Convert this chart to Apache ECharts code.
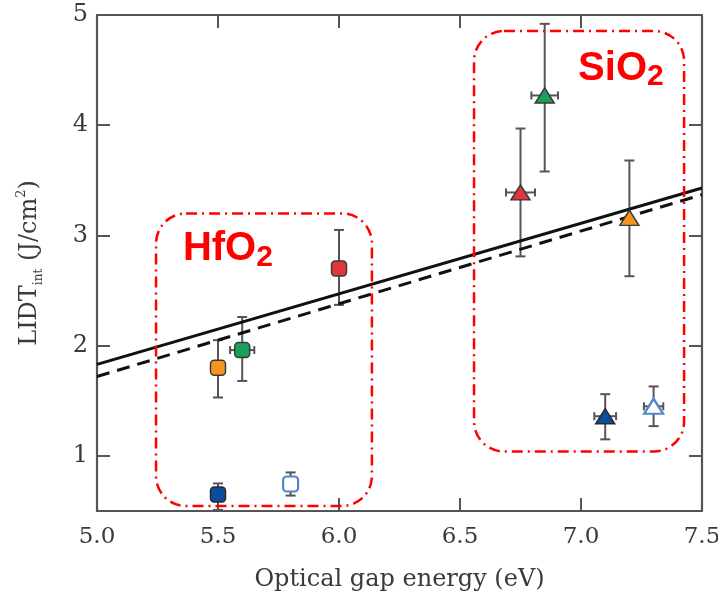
<!DOCTYPE html>
<html>
<head>
<meta charset="utf-8">
<script src="https://cdn.jsdelivr.net/npm/echarts@6/dist/echarts.min.js"></script>
<style>
  html, body { margin: 0; padding: 0; background: #fff; }
  #chart { width: 718px; height: 597px; }
</style>
</head>
<body>
<div id="chart"></div>
<script>
// Laser damage threshold of oxide films against their optical gap energy

// Measured samples: gap energy (eV), threshold (J/cm2), error limits
const gapEnergy = [5.5, 5.6, 5.5, 5.8, 6.0, 6.75, 6.85, 7.2, 7.1, 7.3];
const lidt      = [1.80, 1.96, 0.65, 0.745, 2.70, 3.39, 4.27, 3.16, 1.36, 1.45];
const lidtLow   = [1.53, 1.68, 0.51, 0.64, 2.37, 2.81, 3.58, 2.63, 1.15, 1.27];
const lidtHigh  = [2.05, 2.26, 0.75, 0.85, 3.05, 3.97, 4.92, 3.68, 1.56, 1.63];
const gapErr    = [0, 0.05, 0, 0, 0, 0.06, 0.055, 0, 0.045, 0.04];

// Linear fits drawn across the full axis range
const fitGap    = [5.0, 7.5];
const fitSolid  = [1.83, 3.43];
const fitDashed = [1.72, 3.37];

// Material groups (gap range, threshold range) and their label anchors
const groupNames   = ['HfO', 'SiO'];
const groupGap     = [[5.244, 6.136], [6.558, 7.426]];
const groupLidt    = [[0.545, 3.20], [1.04, 4.855]];
const groupLabelAt = [[5.355, 2.873], [6.988, 4.51]];

// Tick values
const xTicks = [5.0, 5.5, 6.0, 6.5, 7.0, 7.5];
const yTicks = [1, 2, 3, 4, 5];

// Marker appearance per sample
const markerStyles = [
  { shape: 'roundRect', fill: '#f7941d', stroke: '#3a3a3a' },
  { shape: 'roundRect', fill: '#17a05e', stroke: '#3a3a3a' },
  { shape: 'roundRect', fill: '#0c4c9f', stroke: '#2a2a2a' },
  { shape: 'roundRect', fill: '#ffffff', stroke: '#4f86cf' },
  { shape: 'roundRect', fill: '#e2353e', stroke: '#3a3a3a' },
  { shape: 'triangle',  fill: '#e2353e', stroke: '#3a3a3a' },
  { shape: 'triangle',  fill: '#17a05e', stroke: '#3a3a3a' },
  { shape: 'triangle',  fill: '#f7941d', stroke: '#3a3a3a' },
  { shape: 'triangle',  fill: '#0c4c9f', stroke: '#2a2a2a' },
  { shape: 'triangle',  fill: '#ffffff', stroke: '#4f86cf' }
];

const AXIS = '#555';
const TEXT = '#3a3a3a';
const SERIF = '"DejaVu Serif", serif';

const chart = echarts.init(document.getElementById('chart'), null, { renderer: 'canvas' });

const pointData = gapEnergy.map((g, i) => {
  const m = markerStyles[i];
  const tri = m.shape === 'triangle';
  return {
    value: [g, lidt[i]],
    symbol: m.shape,
    symbolSize: tri ? [19, 15] : [15, 15],
    itemStyle: {
      color: m.fill, borderColor: m.stroke, opacity: 1,
      borderWidth: m.fill === '#ffffff' ? 2.2 : 1.5
    }
  };
});

const errorData = gapEnergy.map((g, i) => [g, lidtLow[i], lidtHigh[i], gapErr[i], lidt[i]]);
const groupData = groupNames.map((n, i) => [groupGap[i][0], groupGap[i][1], groupLidt[i][0], groupLidt[i][1], groupLabelAt[i][0], groupLabelAt[i][1]]);

function renderError(params, api) {
  const x = api.value(0), lo = api.value(1), hi = api.value(2), xe = api.value(3), y = api.value(4);
  const pLo = api.coord([x, lo]);
  const pHi = api.coord([x, hi]);
  const st = { stroke: AXIS, lineWidth: 2 };
  const cap = 5;
  const kids = [
    { type: 'line', shape: { x1: pLo[0], y1: pLo[1], x2: pHi[0], y2: pHi[1] }, style: st },
    { type: 'line', shape: { x1: pLo[0] - cap, y1: pLo[1], x2: pLo[0] + cap, y2: pLo[1] }, style: st },
    { type: 'line', shape: { x1: pHi[0] - cap, y1: pHi[1], x2: pHi[0] + cap, y2: pHi[1] }, style: st }
  ];
  if (xe > 0) {
    const pL = api.coord([x - xe, y]);
    const pR = api.coord([x + xe, y]);
    kids.push(
      { type: 'line', shape: { x1: pL[0], y1: pL[1], x2: pR[0], y2: pR[1] }, style: st },
      { type: 'line', shape: { x1: pL[0], y1: pL[1] - 4, x2: pL[0], y2: pL[1] + 4 }, style: st },
      { type: 'line', shape: { x1: pR[0], y1: pR[1] - 4, x2: pR[0], y2: pR[1] + 4 }, style: st }
    );
  }
  return { type: 'group', children: kids };
}

function renderGroup(params, api) {
  const p0 = api.coord([api.value(0), api.value(3)]);
  const p1 = api.coord([api.value(1), api.value(2)]);
  const la = api.coord([api.value(4), api.value(5)]);
  const name = groupNames[params.dataIndex];
  return {
    type: 'group',
    children: [
      {
        type: 'rect',
        shape: { x: p0[0], y: p0[1], width: p1[0] - p0[0], height: p1[1] - p0[1], r: 30 },
        style: { fill: 'none', stroke: '#ff0000', lineWidth: 2.5, lineDash: [11, 5, 2, 5] }
      },
      {
        type: 'text',
        x: la[0], y: la[1],
        style: {
          text: '{a|' + name + '}{b|2}',
          align: 'left',
          verticalAlign: 'middle',
          fill: '#ff0000',
          rich: {
            a: { fontFamily: '"Liberation Sans", Arial, sans-serif', fontWeight: 'bold', fontSize: 40, lineHeight: 46, fill: '#ff0000' },
            b: { fontFamily: '"Liberation Sans", Arial, sans-serif', fontWeight: 'bold', fontSize: 30, lineHeight: 20, verticalAlign: 'bottom', fill: '#ff0000' }
          }
        }
      }
    ]
  };
}

const tickCommon = { show: true, inside: true, length: 13, lineStyle: { color: AXIS, width: 2 } };
const lineCommon = { show: true, onZero: false, lineStyle: { color: AXIS, width: 2.2 } };

chart.setOption({
  animation: false,
  backgroundColor: '#ffffff',
  grid: { left: 97, right: 16, top: 15, bottom: 86, containLabel: false, outerBoundsMode: 'none' },
  xAxis: [
    {
      type: 'value', position: 'bottom', min: 5, max: 7.5, interval: 0.5,
      axisLine: lineCommon,
      axisTick: Object.assign({}, tickCommon, { customValues: xTicks }),
      axisLabel: {
        customValues: xTicks, showMinLabel: true, showMaxLabel: true,
        formatter: v => Number(v).toFixed(1),
        fontFamily: SERIF, fontSize: 23, color: TEXT, margin: 15
      },
      splitLine: { show: false },
      name: 'Optical gap energy (eV)', nameLocation: 'middle', nameGap: 57,
      nameTextStyle: { fontFamily: SERIF, fontSize: 24, color: TEXT }
    },
    {
      type: 'value', position: 'top', min: 5, max: 7.5, interval: 0.5,
      axisLine: lineCommon,
      axisTick: Object.assign({}, tickCommon, { customValues: xTicks }),
      axisLabel: { show: false },
      splitLine: { show: false }
    }
  ],
  yAxis: [
    {
      type: 'value', position: 'left', min: 0.5, max: 5, interval: 0.5,
      axisLine: lineCommon,
      axisTick: Object.assign({}, tickCommon, { customValues: yTicks }),
      axisLabel: {
        customValues: yTicks, formatter: v => String(v),
        fontFamily: SERIF, fontSize: 24, color: TEXT, margin: 9
      },
      splitLine: { show: false },
      name: '{a|LIDT}{s|int}{a| (J/cm}{p|2}{a|)}',
      nameLocation: 'middle', nameGap: 52,
      nameTextStyle: {
        color: TEXT,
        rich: {
          a: { fontFamily: SERIF, fontSize: 24, lineHeight: 30, color: TEXT },
          s: { fontFamily: SERIF, fontSize: 12, lineHeight: 12, verticalAlign: 'bottom', color: TEXT },
          p: { fontFamily: SERIF, fontSize: 13, lineHeight: 15, verticalAlign: 'top', color: TEXT }
        }
      }
    },
    {
      type: 'value', position: 'right', min: 0.5, max: 5, interval: 0.5,
      axisLine: lineCommon,
      axisTick: Object.assign({}, tickCommon, { customValues: yTicks }),
      axisLabel: { show: false },
      splitLine: { show: false }
    }
  ],
  series: [
    {
      name: 'error', type: 'custom', xAxisIndex: 0, yAxisIndex: 0, z: 2,
      renderItem: renderError, data: errorData,
      encode: { x: 0, y: [1, 2] }, silent: true
    },
    {
      name: 'fit', type: 'line', z: 3, showSymbol: false, symbol: 'none',
      data: fitGap.map((g, i) => [g, fitSolid[i]]),
      lineStyle: { color: '#111', width: 3 }
    },
    {
      name: 'fit dashed', type: 'line', z: 3, showSymbol: false, symbol: 'none',
      data: fitGap.map((g, i) => [g, fitDashed[i]]),
      lineStyle: { color: '#111', width: 3, type: [13, 8] }
    },
    {
      name: 'samples', type: 'scatter', z: 4, data: pointData
    },
    {
      name: 'groups', type: 'custom', z: 5, renderItem: renderGroup, data: groupData,
      encode: { x: [0, 1], y: [2, 3] }, silent: true
    }
  ]
});
</script>
</body>
</html>
